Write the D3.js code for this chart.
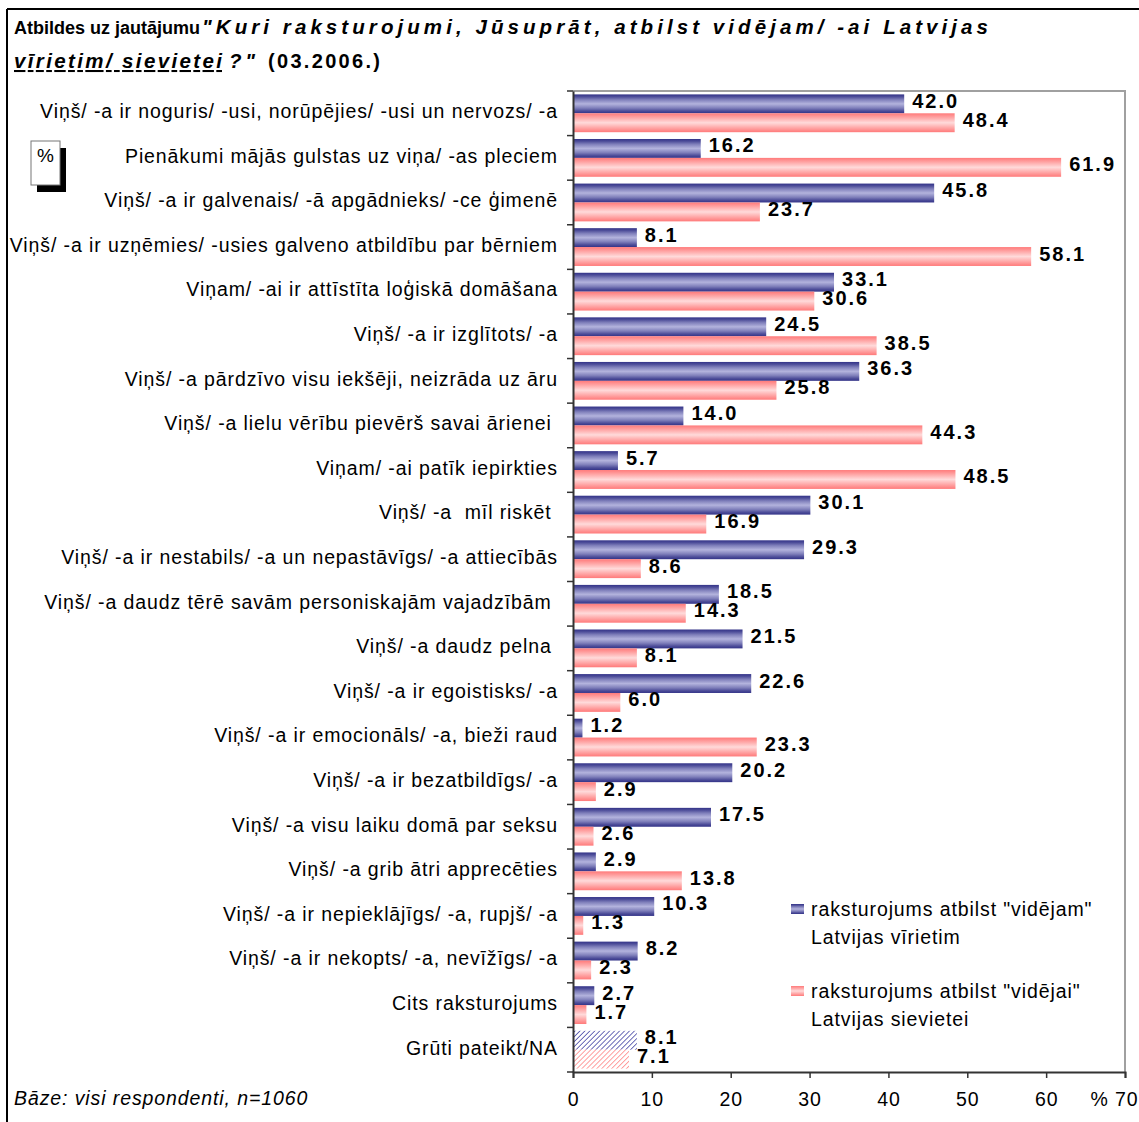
<!DOCTYPE html>
<html>
<head>
<meta charset="utf-8">
<script src="https://cdn.jsdelivr.net/npm/d3@7"></script>
<style>
  body { margin: 0; background: #fff; }
  svg { font-family: "Liberation Sans", Arial, sans-serif; display: block; }
  .lbl { font-size: 19.5px; letter-spacing: 0.9px; white-space: pre; }
  .val { font-size: 20px; font-weight: bold; letter-spacing: 2px; }
</style>
</head>
<body>
<div id="chart"></div>
<script>
var width = 1139, height = 1122;

var categories = [
  "Viņš/ -a ir noguris/ -usi, norūpējies/ -usi un nervozs/ -a",
  "Pienākumi mājās gulstas uz viņa/ -as pleciem",
  "Viņš/ -a ir galvenais/ -ā apgādnieks/ -ce ģimenē",
  "Viņš/ -a ir uzņēmies/ -usies galveno atbildību par bērniem",
  "Viņam/ -ai ir attīstīta loģiskā domāšana",
  "Viņš/ -a ir izglītots/ -a",
  "Viņš/ -a pārdzīvo visu iekšēji, neizrāda uz āru",
  "Viņš/ -a lielu vērību pievērš savai ārienei ",
  "Viņam/ -ai patīk iepirkties",
  "Viņš/ -a  mīl riskēt ",
  "Viņš/ -a ir nestabils/ -a un nepastāvīgs/ -a attiecībās",
  "Viņš/ -a daudz tērē savām personiskajām vajadzībām ",
  "Viņš/ -a daudz pelna ",
  "Viņš/ -a ir egoistisks/ -a",
  "Viņš/ -a ir emocionāls/ -a, bieži raud",
  "Viņš/ -a ir bezatbildīgs/ -a",
  "Viņš/ -a visu laiku domā par seksu",
  "Viņš/ -a grib ātri apprecēties",
  "Viņš/ -a ir nepieklājīgs/ -a, rupjš/ -a",
  "Viņš/ -a ir nekopts/ -a, nevīžīgs/ -a",
  "Cits raksturojums",
  "Grūti pateikt/NA"
];
var men   = [42.0, 16.2, 45.8, 8.1, 33.1, 24.5, 36.3, 14.0, 5.7, 30.1, 29.3, 18.5, 21.5, 22.6, 1.2, 20.2, 17.5, 2.9, 10.3, 8.2, 2.7, 8.1];
var women = [48.4, 61.9, 23.7, 58.1, 30.6, 38.5, 25.8, 44.3, 48.5, 16.9, 8.6, 14.3, 8.1, 6.0, 23.3, 2.9, 2.6, 13.8, 1.3, 2.3, 1.7, 7.1];
var seriesNames = ["raksturojums atbilst \"vidējam\"|Latvijas vīrietim", "raksturojums atbilst \"vidējai\"|Latvijas sievietei"];
var xTicks = [0, 10, 20, 30, 40, 50, 60, 70];

var margin = {top: 91, right: 14, bottom: 50, left: 573};
var plotW = width - margin.left - margin.right;
var plotH = height - margin.top - margin.bottom;

var svg = d3.select("#chart").append("svg")
    .attr("width", width)
    .attr("height", height);

var defs = svg.append("defs");

// striped gradients like the old excel fills
var gBlue = defs.append("linearGradient").attr("id", "gBlue")
    .attr("x1", 0).attr("y1", 0).attr("x2", 0).attr("y2", 1);
[[0, "#333388"], [0.12, "#4d4d99"], [0.28, "#8080bb"], [0.5, "#b3b3dd"], [0.72, "#8080bb"], [0.88, "#4d4d99"], [1, "#333388"]]
  .forEach(function(s) { gBlue.append("stop").attr("offset", s[0]).attr("stop-color", s[1]); });
var gPink = defs.append("linearGradient").attr("id", "gPink")
    .attr("x1", 0).attr("y1", 0).attr("x2", 0).attr("y2", 1);
[[0, "#ff7a7a"], [0.2, "#ffa0a0"], [0.5, "#ffdada"], [0.8, "#ffa0a0"], [1, "#ff7a7a"]]
  .forEach(function(s) { gPink.append("stop").attr("offset", s[0]).attr("stop-color", s[1]); });

// hatch patterns for the last row
function hatch(id, col) {
  var p = defs.append("pattern").attr("id", id)
      .attr("patternUnits", "userSpaceOnUse")
      .attr("width", 3.5).attr("height", 3.5)
      .attr("patternTransform", "rotate(45)");
  p.append("rect").attr("width", 3.5).attr("height", 3.5).attr("fill", "#fff");
  p.append("line").attr("x1", 0).attr("y1", 0).attr("x2", 0).attr("y2", 3.5)
      .attr("stroke", col).attr("stroke-width", 1.5);
}
hatch("hBlue", "#3b3ba0");
hatch("hPink", "#ff8080");

// outer frame
svg.append("line").attr("x1", 7).attr("x2", width).attr("y1", 9).attr("y2", 9)
    .attr("stroke", "#000").attr("stroke-width", 2);
svg.append("line").attr("x1", 7).attr("x2", 7).attr("y1", 9).attr("y2", height)
    .attr("stroke", "#000").attr("stroke-width", 2);

// title, pieces (w = width in the original, 0 = natural width)
var titleParts = [
  {t: "Atbildes uz jautājumu", x: 14, y: 34, w: 0, fs: 18, it: false, u: false},
  {t: "\"Kuri raksturojumi, Jūsuprāt, atbilst vidējam/ -ai Latvijas", x: 202, y: 34, w: 786, fs: 20.5, it: true, u: false},
  {t: "vīrietim/ sievietei", x: 14, y: 68, w: 208, fs: 20.5, it: true, u: true},
  {t: "?\"", x: 229, y: 68, w: 26, fs: 20.5, it: true, u: false},
  {t: "(03.2006.)", x: 268, y: 68, w: 112, fs: 20, it: false, u: false}
];
var tt = svg.selectAll(".title").data(titleParts).enter().append("text")
    .attr("class", "title")
    .attr("x", function(d) { return d.x; })
    .attr("y", function(d) { return d.y; })
    .style("font-size", function(d) { return d.fs + "px"; }).style("font-weight", "bold")
    .style("font-style", function(d) { return d.it ? "italic" : "normal"; })
    .style("text-decoration", function(d) { return d.u ? "underline" : "none"; })
    .text(function(d) { return d.t; });
tt.filter(function(d) { return d.w > 0; })
    .attr("textLength", function(d) { return d.w; })
    .attr("lengthAdjust", "spacing");

var g = svg.append("g")
    .attr("transform", "translate(" + margin.left + "," + margin.top + ")");

var x = d3.scaleLinear().domain([0, 70]).range([0, plotW]);
var y = d3.scaleBand().domain(categories).range([0, plotH]).padding(0);
var ySub = d3.scaleBand().domain([0, 1]).range([0, y.bandwidth()]).paddingInner(0).paddingOuter(0.18);

// plot area border (top, right)
g.append("path")
    .attr("d", "M0,0H" + plotW + "V" + plotH)
    .attr("fill", "none").attr("stroke", "#a0a0a0").attr("stroke-width", 2);

var rows = categories.map(function(c, i) { return {cat: c, vals: [men[i], women[i]], last: i === categories.length - 1}; });

var row = g.selectAll(".row").data(rows).enter().append("g")
    .attr("class", "row")
    .attr("transform", function(d) { return "translate(0," + y(d.cat) + ")"; });

row.selectAll("rect").data(function(d) { return d.vals.map(function(v, k) { return {v: v, k: k, last: d.last}; }); })
  .enter().append("rect")
    .attr("x", 0)
    .attr("y", function(d) { return ySub(d.k); })
    .attr("height", ySub.bandwidth())
    .attr("width", function(d) { return x(d.v); })
    .attr("fill", function(d) {
      if (d.last) return d.k === 0 ? "url(#hBlue)" : "url(#hPink)";
      return d.k === 0 ? "url(#gBlue)" : "url(#gPink)";
    });

row.selectAll("text.val").data(function(d) { return d.vals.map(function(v, k) { return {v: v, k: k}; }); })
  .enter().append("text")
    .attr("class", "val")
    .attr("x", function(d) { return x(d.v) + 8; })
    .attr("y", function(d) { return ySub(d.k) + ySub.bandwidth() / 2 - 3; })
    .attr("dy", "0.35em")
    .text(function(d) { return d3.format(".1f")(d.v); });

// y axis
var yAxis = g.append("g").call(d3.axisLeft(y).tickSize(0).tickPadding(15));
yAxis.attr("font-size", null).attr("font-family", null);
yAxis.select(".domain").attr("stroke", "#333").attr("stroke-width", 2);
yAxis.selectAll("text").attr("class", "lbl")
    .attr("fill", "#000").attr("dy", "0.35em").attr("y", -2);
// category boundary ticks
g.selectAll(".ctick").data(categories.concat([null])).enter().append("line")
    .attr("x1", -6).attr("x2", 0)
    .attr("y1", function(d, i) { return i * y.step(); })
    .attr("y2", function(d, i) { return i * y.step(); })
    .attr("stroke", "#333").attr("stroke-width", 1.5);

// x axis
var xAxis = g.append("g").attr("transform", "translate(0," + plotH + ")")
    .call(d3.axisBottom(x).tickValues(xTicks).tickSize(6).tickPadding(14)
      .tickFormat(function(d) { return d === 70 ? "% 70" : d; }));
xAxis.attr("font-size", null).attr("font-family", null);
xAxis.select(".domain").attr("stroke", "#333").attr("stroke-width", 2);
xAxis.selectAll("line").attr("stroke", "#333").attr("stroke-width", 1.5);
xAxis.selectAll("text").attr("class", "lbl").attr("fill", "#000");
xAxis.selectAll(".tick").filter(function(d) { return d === 70; }).select("text")
    .attr("text-anchor", "end").attr("dx", 13);

// percent box
svg.append("rect").attr("x", 37).attr("y", 148).attr("width", 29).attr("height", 44).attr("fill", "#000");
svg.append("rect").attr("x", 31).attr("y", 141).attr("width", 29).attr("height", 44)
    .attr("fill", "#fff").attr("stroke", "#777").attr("stroke-width", 1);
svg.append("text").attr("x", 45.5).attr("y", 162).attr("text-anchor", "middle")
    .style("font-size", "19px").text("%");

// legend
var legend = svg.selectAll(".legend").data(seriesNames).enter().append("g")
    .attr("class", "legend")
    .attr("transform", function(d, i) { return "translate(791," + (909 + i * 82) + ")"; });
legend.append("rect").attr("x", 0).attr("y", -5).attr("width", 13).attr("height", 10)
    .attr("fill", function(d, i) { return i === 0 ? "url(#gBlue)" : "url(#gPink)"; });
legend.append("text").attr("class", "lbl").attr("x", 20).attr("y", 0).attr("dy", "0.35em")
    .text(function(d) { return d.split("|")[0]; });
legend.append("text").attr("class", "lbl").attr("x", 20).attr("y", 28).attr("dy", "0.35em")
    .text(function(d) { return d.split("|")[1]; });

// base note
svg.append("text").attr("class", "lbl").attr("x", 14).attr("y", 1105)
    .style("font-style", "italic")
    .text("Bāze: visi respondenti, n=1060");
</script>
</body>
</html>
